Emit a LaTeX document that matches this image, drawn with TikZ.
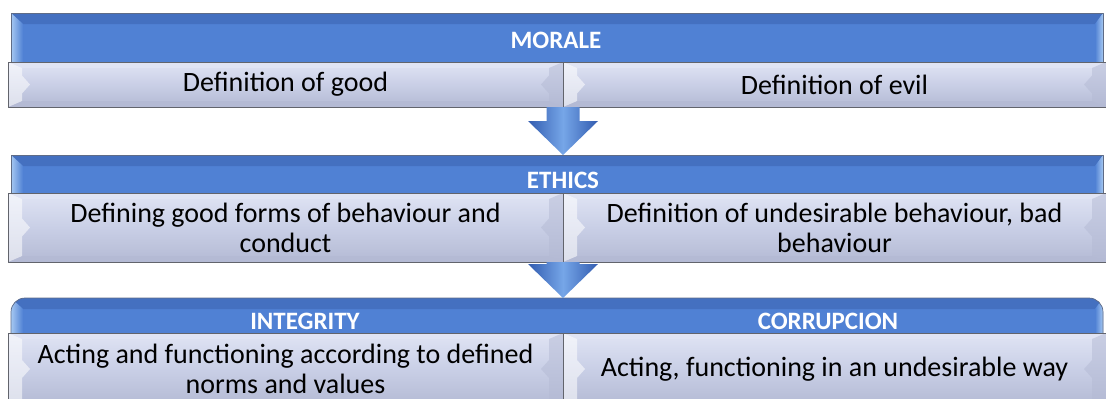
\documentclass[tikz,border=0pt]{standalone}
\usepackage{fontspec}
\setmainfont{Carlito}
\usetikzlibrary{positioning}
\definecolor{hdrblue}{RGB}{80,129,212}
\definecolor{hdrdark}{RGB}{68,112,192}
\definecolor{hdrlight}{RGB}{165,200,242}
\definecolor{hdredge}{RGB}{95,108,135}
\definecolor{subfill}{RGB}{201,207,230}
\definecolor{sublight}{RGB}{224,228,244}
\definecolor{subdark}{RGB}{180,186,212}
\definecolor{subedge}{RGB}{98,100,108}
\definecolor{arrdark}{RGB}{50,92,176}
\definecolor{arrlight}{RGB}{118,166,232}
\begin{document}
\begin{tikzpicture}[x=1bp,y=-1bp,line join=round,
  hdr/.style={draw=hdredge,line width=0.7pt,fill=hdrblue,inner sep=0pt,outer sep=0pt,
    anchor=north west,minimum width=1092bp,
    path picture={
      \fill[hdrdark,sharp corners] (path picture bounding box.north west) -- (path picture bounding box.north east)
        -- ++(-8bp,-11bp) -- ([xshift=12bp,yshift=-11bp]path picture bounding box.north west) -- cycle;
      \shade[left color=hdrlight,right color=hdrblue,sharp corners] (path picture bounding box.north west)
        -- ++(12bp,-11bp) -- ([xshift=12bp]path picture bounding box.south west) -- (path picture bounding box.south west) -- cycle;
      \shade[left color=hdrblue,right color=hdrlight,sharp corners] (path picture bounding box.north east)
        -- ++(-8bp,-11bp) -- ([xshift=-8bp]path picture bounding box.south east) -- (path picture bounding box.south east) -- cycle;
    }},
  hdrtext/.style={inner sep=0pt,text=white,font=\fontsize{25bp}{28bp}\selectfont\bfseries},
  subbox/.style={draw=subedge,line width=0.8pt,top color=sublight,bottom color=subdark,middle color=subfill,
    inner sep=0pt,outer sep=0pt,align=center,font=\fontsize{28bp}{30bp}\selectfont,
    path picture={
      \fill[sublight] (path picture bounding box.north west) -- (path picture bounding box.north east)
        -- ++(-14bp,-6bp) -- ([xshift=14bp,yshift=-6bp]path picture bounding box.north west) -- cycle;
      \fill[subdark] (path picture bounding box.south west) -- (path picture bounding box.south east)
        -- ++(-14bp,6bp) -- ([xshift=14bp,yshift=6bp]path picture bounding box.south west) -- cycle;
      \fill[white,opacity=0.55] (path picture bounding box.north west) -- ++(14bp,-6bp)
        -- ([xshift=14bp,yshift=9bp]path picture bounding box.west) -- ([xshift=22bp]path picture bounding box.west)
        -- ([xshift=14bp,yshift=-9bp]path picture bounding box.west) -- ([xshift=14bp,yshift=6bp]path picture bounding box.south west)
        -- (path picture bounding box.south west) -- cycle;
      \fill[subdark,opacity=0.5] (path picture bounding box.north east) -- ++(-14bp,-6bp)
        -- ([xshift=-14bp,yshift=9bp]path picture bounding box.east) -- ([xshift=-22bp]path picture bounding box.east)
        -- ([xshift=-14bp,yshift=-9bp]path picture bounding box.east) -- ([xshift=-14bp,yshift=6bp]path picture bounding box.south east)
        -- (path picture bounding box.south east) -- cycle;
    }},
  blockarrow/.style={left color=arrdark,right color=arrdark,middle color=arrlight}]
  \useasboundingbox (0,0) rectangle (1106,398);
  \clip (0,0) rectangle (1106,398);

  % first row
  \node[hdr,minimum height=49bp] (morale) at (11,13) {};
  \node[hdrtext] (moraletxt) at (556,40) {MORALE};
  \node[subbox,anchor=north west,minimum width=555bp,minimum height=45bp] (good) at (8,62) {Definition of good};
  \node[subbox,minimum width=543bp,minimum height=45bp,right=0pt of good] (evil) {Definition of evil};

  % second row
  \node[hdr,minimum height=38bp] (ethics) at (11,155) {};
  \node[hdrtext] (ethicstxt) at (563,180) {ETHICS};
  \node[subbox,anchor=north west,minimum width=555bp,minimum height=69bp] (conduct) at (8,193)
    {Defining good forms of behaviour and\\conduct};
  \node[subbox,minimum width=543bp,minimum height=69bp,right=0pt of conduct] (badconduct)
    {Definition of undesirable behaviour, bad\\behaviour};

  % third row, its bottom runs off the page
  \node[hdr,minimum height=50bp,rounded corners=14bp] (result) at (11,298) {};
  \node[hdrtext] (integritytxt) at (305,321) {INTEGRITY};
  \node[hdrtext] (corruptiontxt) at (828,321) {CORRUPCION};
  \node[subbox,anchor=north west,minimum width=555bp,minimum height=72bp] (norms) at (8,333)
    {Acting and functioning according to defined\\norms and values};
  \node[subbox,minimum width=543bp,minimum height=72bp,right=0pt of norms] (undesired)
    {Acting, functioning in an undesirable way};

  % arrows between the rows
  \coordinate (tip1) at (good.south east |- ethics.north);
  \coordinate (tip2) at (conduct.south east |- result.north);
  \foreach \top/\tip in {good/tip1,conduct/tip2}{
    \shade[blockarrow] ([xshift=-16.5bp]\top.south east) -- ([xshift=-16.5bp,yshift=34bp]\tip)
      -- ([xshift=-35bp,yshift=34bp]\tip) -- (\tip) -- ([xshift=35bp,yshift=34bp]\tip)
      -- ([xshift=16.5bp,yshift=34bp]\tip) -- ([xshift=16.5bp]\top.south east) -- cycle;
  }
\end{tikzpicture}
\end{document}
